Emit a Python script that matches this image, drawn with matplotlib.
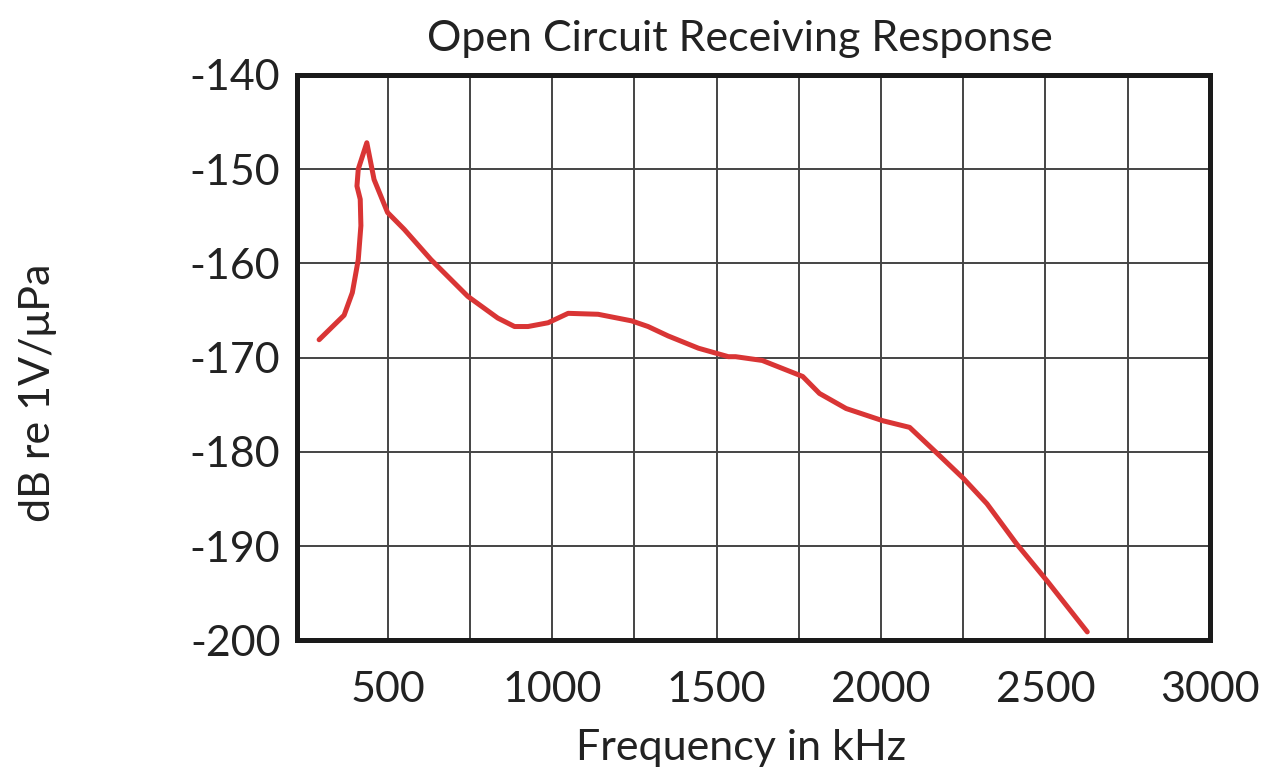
import matplotlib
matplotlib.use("Agg")
import matplotlib.pyplot as plt

plt.rcParams['font.family'] = ['Lato', 'DejaVu Sans']
plt.rcParams['axes.unicode_minus'] = False

# Data
freq_khz = [292, 368, 393, 411, 419, 417, 407, 411, 437, 459, 500, 551, 632, 744,
            835, 886, 927, 988, 1049, 1140, 1242, 1292, 1353, 1445, 1536, 1558,
            1639, 1762, 1813, 1894, 2006, 2087, 2169, 2250, 2322, 2413, 2505, 2627]
response_db = [-168.1, -165.5, -163.1, -159.6, -156.0, -153.2, -151.8, -150.0, -147.2,
               -151.1, -154.6, -156.4, -159.6, -163.5, -165.8, -166.7, -166.7, -166.3,
               -165.3, -165.4, -166.1, -166.7, -167.7, -169.0, -169.9, -169.9, -170.3,
               -172.0, -173.8, -175.4, -176.7, -177.4, -180.1, -182.8, -185.5, -189.8,
               -193.7, -199.1]

x_ticks = [500, 1000, 1500, 2000, 2500, 3000]
x_grid = [500, 750, 1000, 1250, 1500, 1750, 2000, 2250, 2500, 2750]
y_ticks = [-200, -190, -180, -170, -160, -150, -140]

title = "Open Circuit Receiving Response"
x_label = "Frequency in kHz"
y_label = "dB re 1V/μPa"

fig = plt.figure(figsize=(12.75, 7.8), dpi=100)
ax = fig.add_axes([0.233, 0.179, 0.716, 0.725])

ax.set_xlim(225, 3000)
ax.set_ylim(-200, -140)

for gx in x_grid:
    ax.axvline(gx, color='#444444', lw=1.4, zorder=1)
for gy in y_ticks[1:-1]:
    ax.axhline(gy, color='#444444', lw=1.4, zorder=1)

ax.plot(freq_khz, response_db, color='#d93535', lw=3.6, solid_joinstyle='round',
        solid_capstyle='round', zorder=3)

ax.set_xticks(x_ticks)
ax.set_xticklabels([str(v) for v in x_ticks])
ax.set_yticks(y_ticks)
ax.set_yticklabels([str(v) for v in y_ticks])
ax.tick_params(axis='both', length=0, labelsize=31, colors='#222222')
ax.tick_params(axis='x', pad=22)
ax.tick_params(axis='y', pad=12)

for s in ax.spines.values():
    s.set_linewidth(3.6)
    s.set_color('#1a1a1a')

ax.set_title(title, fontsize=31, pad=17, color='#222222', x=0.485)
ax.set_xlabel(x_label, fontsize=31, color='#222222')
ax.xaxis.label.set_va('center')
ax.xaxis.set_label_coords(0.486, -0.191)
ax.set_ylabel(y_label, fontsize=31, color='#222222')
ax.yaxis.label.set_va('center')
ax.yaxis.set_label_coords(-0.284, 0.437)

fig.savefig("out.png", dpi=100)
